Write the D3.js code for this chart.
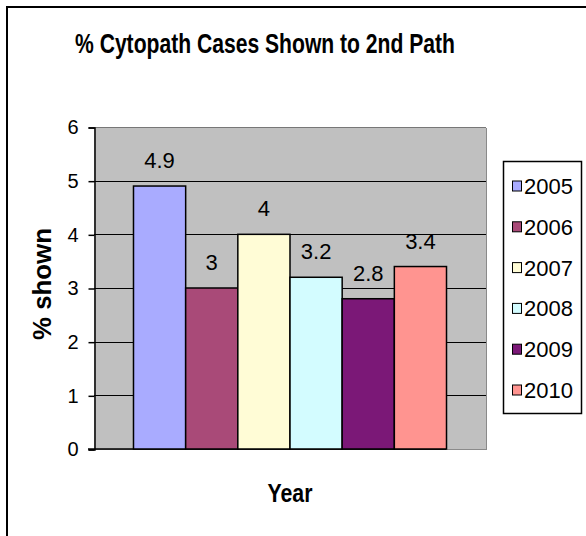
<!DOCTYPE html>
<html lang="en">
<head>
  <meta charset="UTF-8">
  <title>% Cytopath Cases Shown to 2nd Path</title>
  <script src="https://cdn.jsdelivr.net/npm/d3@7"></script>
  <style>
    body { margin: 0; background: white; }
    svg { display: block; font-family: Arial, "Liberation Sans", sans-serif; }
  </style>
</head>
<body>
  <div id="chart"></div>
  <script>
    const years = ['2005', '2006', '2007', '2008', '2009', '2010']
    const values = [4.9, 3, 4, 3.2, 2.8, 3.4]
    const colors = ['#a9abff', '#a94a78', '#fffcd6', '#d3fcff', '#7b1877', '#ff9490']
    const yTicks = [0, 1, 2, 3, 4, 5, 6]

    const width = 586
    const height = 536
    const plot = { left: 94, right: 486, top: 127, bottom: 449 }

    const svg = d3.select('#chart')
      .append('svg')
      .attr('width', width)
      .attr('height', height)

    // outer chart frame (runs off the right and bottom of the picture)
    svg.append('rect')
      .attr('x', 7)
      .attr('y', 7)
      .attr('width', 620)
      .attr('height', 580)
      .attr('fill', 'white')
      .attr('stroke', 'black')
      .attr('stroke-width', 2)

    svg.append('text')
      .attr('x', 265)
      .attr('y', 53)
      .attr('text-anchor', 'middle')
      .style('font-size', '28px')
      .style('font-weight', 'bold')
      .attr('textLength', 380)
      .attr('lengthAdjust', 'spacingAndGlyphs')
      .text('% Cytopath Cases Shown to 2nd Path')

    const xScale = d3.scaleBand()
      .domain(years)
      .range([plot.left, plot.right])
      .paddingInner(0)
      .paddingOuter(0.757)

    const yScale = d3.scaleLinear()
      .domain([0, 6])
      .range([plot.bottom, plot.top])

    // plot area with grey 3D-ish edge
    svg.append('rect')
      .attr('x', plot.left + 1)
      .attr('y', plot.top + 1)
      .attr('width', plot.right - plot.left)
      .attr('height', plot.bottom - plot.top)
      .attr('fill', '#8a8a8a')
    svg.append('rect')
      .attr('x', plot.left)
      .attr('y', plot.top)
      .attr('width', plot.right - plot.left)
      .attr('height', plot.bottom - plot.top)
      .attr('fill', '#c0c0c0')
    svg.append('line')
      .attr('x1', plot.left).attr('x2', plot.right)
      .attr('y1', plot.top + 0.5).attr('y2', plot.top + 0.5)
      .attr('stroke', '#777')

    svg.append('g')
      .selectAll('line')
      .data(yTicks.filter(d => d > 0 && d < 6))
      .enter()
      .append('line')
      .attr('x1', plot.left)
      .attr('x2', plot.right)
      .attr('y1', d => Math.round(yScale(d)) + 0.5)
      .attr('y2', d => Math.round(yScale(d)) + 0.5)
      .attr('stroke', 'black')

    const yAxis = d3.axisLeft(yScale)
      .tickValues(yTicks)
      .tickSize(6)
      .tickPadding(10)
      .tickFormat(d3.format('d'))

    const yG = svg.append('g')
      .attr('transform', `translate(${plot.left + 0.5}, 0.5)`)
      .call(yAxis)
    yG.select('.domain').attr('stroke', 'black').attr('stroke-width', 1.5)
    yG.selectAll('.tick line').attr('stroke', 'black').attr('stroke-width', 1.5)
    yG.selectAll('.tick text')
      .style('font-size', '20px')
      .style('font-family', 'Arial, "Liberation Sans", sans-serif')
      .attr('fill', 'black')

    svg.append('line')
      .attr('x1', plot.left - 6).attr('x2', plot.right - 40)
      .attr('y1', plot.bottom).attr('y2', plot.bottom)
      .attr('stroke', 'black').attr('stroke-width', 1.5)

    svg.append('g')
      .selectAll('rect')
      .data(values)
      .enter()
      .append('rect')
      .attr('x', (d, i) => xScale(years[i]))
      .attr('y', d => yScale(d))
      .attr('width', xScale.bandwidth())
      .attr('height', d => plot.bottom - yScale(d))
      .attr('fill', (d, i) => colors[i])
      .attr('stroke', 'black')
      .attr('stroke-width', 1.5)

    svg.append('g')
      .selectAll('text')
      .data(values)
      .enter()
      .append('text')
      .attr('x', (d, i) => xScale(years[i]) + xScale.bandwidth() / 2)
      .attr('y', d => yScale(d) - 18)
      .attr('text-anchor', 'middle')
      .style('font-size', '22px')
      .text(d => d)

    svg.append('text')
      .attr('transform', 'translate(51, 284) rotate(-90)')
      .attr('text-anchor', 'middle')
      .style('font-size', '25px')
      .style('font-weight', 'bold')
      .attr('textLength', 112)
      .attr('lengthAdjust', 'spacingAndGlyphs')
      .text('% shown')

    svg.append('text')
      .attr('x', 290)
      .attr('y', 502)
      .attr('text-anchor', 'middle')
      .style('font-size', '25px')
      .style('font-weight', 'bold')
      .attr('textLength', 45)
      .attr('lengthAdjust', 'spacingAndGlyphs')
      .text('Year')

    // legend
    const legend = svg.append('g')
    legend.append('rect')
      .attr('x', 503.5)
      .attr('y', 161.5)
      .attr('width', 78)
      .attr('height', 252)
      .attr('fill', 'white')
      .attr('stroke', 'black')
      .attr('stroke-width', 1.5)

    const items = legend.selectAll('g.item')
      .data(years)
      .enter()
      .append('g')
      .attr('class', 'item')
      .attr('transform', (d, i) => `translate(512, ${186 + i * 40.8})`)

    items.append('rect')
      .attr('x', 0.5)
      .attr('y', -5)
      .attr('width', 9)
      .attr('height', 10)
      .attr('fill', (d, i) => colors[i])
      .attr('stroke', 'black')

    items.append('text')
      .attr('x', 12)
      .attr('y', 8)
      .style('font-size', '22px')
      .text(d => d)
  </script>
</body>
</html>
